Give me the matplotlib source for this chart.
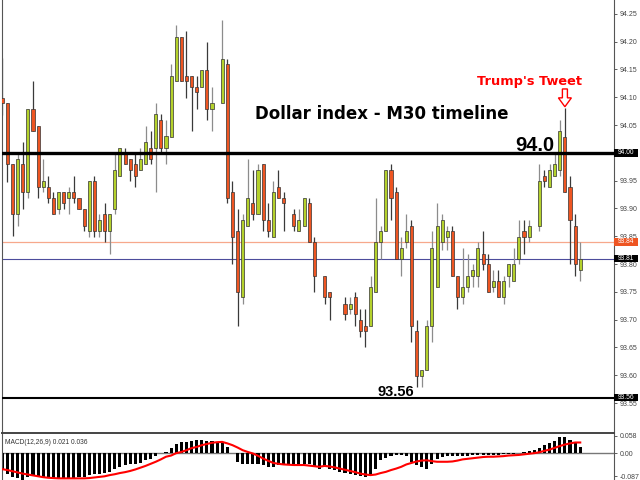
import numpy as np
import matplotlib
matplotlib.use("Agg")
import matplotlib.pyplot as plt
from matplotlib.patches import Rectangle, Polygon
import matplotlib.transforms as mtransforms

nan = np.nan
# ---- OHLC data (M30 bars), nan = no bar drawn ----
opens = [94.099, 94.089, 93.980, 93.890, 93.980, 93.929, 94.079, 94.049, 93.939, 93.939,
         93.919, 93.899, 93.929, 93.919, 93.929, 93.919, 93.899, 93.860, 93.950, 93.860,
         93.890, 93.860, 93.899, 93.959, 93.999, 93.989, 93.980, 93.969, 93.980, 94.009,
         94.009, 94.059, 94.009, 94.029, 94.130, 94.209, 94.139, 94.139, 94.119, 94.119,
         94.149, 94.079, nan, 94.089, 94.160, 93.929, 93.860, 93.740, 93.869, 93.909,
         93.890, 93.980, 93.879, 93.849, 93.939, 93.919, nan, 93.890, 93.860, 93.869,
         93.909, 93.839, nan, 93.779, 93.749, nan, nan, 93.729, 93.719, 93.740,
         93.699, 93.689, 93.689, 93.749, 93.839, 93.860, 93.969, 93.929, 93.809, 93.839,
         93.869, 93.680, 93.599, 93.609, 93.689, 93.759, 93.839, 93.849, 93.860, 93.779,
         93.740, 93.759, 93.779, 93.779, 93.819, 93.800, 93.759, 93.770, 93.740, 93.779,
         93.770, 93.809, 93.860, 93.849, nan, 93.869, 93.959, 93.939, 93.959, 93.969,
         94.029, 93.939, 93.869, 93.789]
highs = [94.171, 94.089, 93.980, 94.000, 94.019, 94.079, 94.130, 94.049, 93.989, 93.959,
         93.929, 93.929, 93.929, 93.939, 93.959, 93.919, 93.899, 93.950, 93.959, 93.890,
         93.909, 93.890, 93.999, 94.009, 94.009, 93.989, 93.999, 94.009, 94.049, 94.040,
         94.089, 94.070, 94.059, 94.160, 94.230, 94.209, 94.219, 94.139, 94.139, 94.149,
         94.200, 94.119, nan, 94.239, 94.169, 93.950, 93.899, 93.890, 93.989, 93.969,
         93.980, 93.980, 93.909, 93.950, 93.969, 93.929, nan, 93.899, 93.899, 93.919,
         93.919, 93.849, nan, 93.779, 93.749, nan, nan, 93.740, 93.740, 93.749,
         93.719, 93.719, 93.779, 93.919, 93.869, 93.969, 93.980, 93.939, 93.849, 93.890,
         93.879, 93.699, 93.609, 93.699, 93.860, 93.909, 93.890, 93.869, 93.869, 93.779,
         93.829, 93.819, 93.800, 93.839, 93.860, 93.819, 93.789, 93.789, 93.779, 93.800,
         93.829, 93.879, 93.879, 93.879, nan, 93.980, 93.969, 93.980, 93.999, 94.059,
         94.080, 93.959, 93.890, 93.839]
lows = [94.068, 93.948, 93.850, 93.868, 93.899, 93.919, 94.040, 93.919, 93.929, 93.909,
        93.890, 93.890, 93.899, 93.890, 93.909, 93.899, 93.860, 93.849, 93.849, 93.849,
        93.839, 93.819, 93.890, 93.959, 93.980, 93.950, 93.939, 93.969, 93.980, 93.980,
        93.929, 94.000, 93.980, 94.029, 94.130, 94.130, 94.099, 94.040, 94.079, 94.119,
        94.059, 94.040, nan, 94.089, 93.909, 93.800, 93.689, 93.729, 93.869, 93.879,
        93.890, 93.860, 93.849, 93.849, 93.919, 93.860, nan, 93.860, 93.860, 93.869,
        93.839, 93.749, nan, 93.729, 93.699, nan, nan, 93.699, 93.710, 93.689,
        93.669, 93.650, 93.689, 93.749, 93.809, 93.860, 93.879, 93.809, 93.779, 93.829,
        93.659, 93.579, 93.579, 93.609, 93.659, 93.759, 93.825, 93.825, 93.779, 93.719,
        93.729, 93.749, 93.759, 93.759, 93.789, 93.749, 93.749, 93.740, 93.729, 93.759,
        93.770, 93.800, 93.819, 93.839, nan, 93.860, 93.939, 93.939, 93.959, 93.959,
        93.929, 93.800, 93.779, 93.770]
closes = [94.090, 93.980, 93.890, 93.989, 93.929, 94.079, 94.040, 93.939, 93.950, 93.919,
          93.890, 93.929, 93.909, 93.929, 93.919, 93.899, 93.869, 93.950, 93.860, 93.879,
          93.860, 93.890, 93.969, 94.009, 93.980, 93.969, 93.959, 93.989, 94.019, 93.989,
          94.070, 94.009, 94.030, 94.139, 94.209, 94.130, 94.130, 94.119, 94.109, 94.149,
          94.079, 94.089, nan, 94.169, 93.919, 93.849, 93.749, 93.879, 93.919, 93.890,
          93.969, 93.879, 93.860, 93.929, 93.919, 93.909, nan, 93.869, 93.879, 93.919,
          93.839, 93.779, nan, 93.740, 93.740, nan, nan, 93.710, 93.729, 93.710,
          93.680, 93.680, 93.759, 93.839, 93.860, 93.969, 93.919, 93.809, 93.829, 93.860,
          93.689, 93.599, 93.609, 93.689, 93.829, 93.869, 93.879, 93.860, 93.779, 93.740,
          93.759, 93.779, 93.789, 93.829, 93.800, 93.749, 93.770, 93.740, 93.770, 93.800,
          93.800, 93.849, 93.849, 93.869, nan, 93.950, 93.950, 93.969, 93.980, 94.040,
          93.929, 93.879, 93.800, 93.809]

# ---- MACD(12,26,9) ----
macd_hist = [-0.057, -0.069, -0.080, -0.085, -0.089, -0.082, -0.074, -0.078, -0.082, -0.085,
             -0.087, -0.087, -0.087, -0.085, -0.083, -0.082, -0.080, -0.074, -0.071, -0.069,
             -0.066, -0.063, -0.052, -0.046, -0.040, -0.038, -0.035, -0.033, -0.024, -0.018,
             -0.009, -0.001, 0.004, 0.016, 0.030, 0.037, 0.039, 0.042, 0.044, 0.044,
             0.042, 0.040, 0.039, 0.033, 0.021, -0.001, -0.029, -0.035, -0.035, -0.035,
             -0.037, -0.040, -0.046, -0.046, -0.040, -0.035, -0.037, -0.037, -0.037, -0.037,
             -0.037, -0.046, -0.052, -0.046, -0.052, -0.057, -0.063, -0.066, -0.069, -0.072,
             -0.078, -0.080, -0.074, -0.052, -0.024, -0.015, -0.010, -0.006, -0.006, -0.010,
             -0.029, -0.040, -0.048, -0.052, -0.035, -0.018, -0.012, -0.010, -0.010, -0.010,
             -0.009, -0.008, -0.007, -0.006, -0.006, -0.006, -0.006, -0.006, -0.004, -0.003,
             -0.002, -0.001, 0.003, 0.008, 0.012, 0.019, 0.026, 0.033, 0.042, 0.055,
             0.053, 0.046, 0.039, 0.021]
macd_signal = [-0.054, -0.057, -0.061, -0.065, -0.069, -0.072, -0.075, -0.078, -0.081, -0.083,
               -0.084, -0.085, -0.085, -0.085, -0.085, -0.085, -0.085, -0.084, -0.082, -0.080,
               -0.078, -0.074, -0.071, -0.067, -0.064, -0.060, -0.055, -0.049, -0.043, -0.036,
               -0.029, -0.021, -0.012, -0.008, 0.000, 0.004, 0.010, 0.017, 0.021, 0.027,
               0.031, 0.035, 0.037, 0.038, 0.033, 0.027, 0.019, 0.010, 0.004, -0.001,
               -0.009, -0.018, -0.026, -0.033, -0.036, -0.038, -0.039, -0.040, -0.040, -0.040,
               -0.042, -0.044, -0.046, -0.043, -0.045, -0.048, -0.052, -0.056, -0.060, -0.064,
               -0.069, -0.072, -0.074, -0.072, -0.067, -0.063, -0.057, -0.052, -0.046, -0.038,
               -0.033, -0.028, -0.025, -0.024, -0.027, -0.029, -0.029, -0.029, -0.028, -0.025,
               -0.021, -0.019, -0.017, -0.015, -0.013, -0.012, -0.012, -0.011, -0.010, -0.008,
               -0.007, -0.006, -0.004, -0.002, 0.000, 0.003, 0.008, 0.012, 0.018, 0.024,
               0.029, 0.033, 0.036, 0.036]

price_ticks = [93.55, 93.60, 93.65, 93.70, 93.75, 93.80, 93.85, 93.90, 93.95,
               94.00, 94.05, 94.10, 94.15, 94.20, 94.25]
level_94 = 94.00
level_low = 93.56
level_ask = 93.84
level_bid = 93.81
tweet_bar = 110
title_text = "Dollar index - M30 timeline"
tweet_text = "Trump's Tweet"

BULL = "#b4d12c"
BEAR = "#ee5522"

W, H = 640, 480
fig = plt.figure(figsize=(6.4, 4.8), dpi=100)
fig.patch.set_facecolor("white")

px = lambda v, tot: v / tot
ax = fig.add_axes([px(2, W), 1 - px(432, H), px(612, W), px(432, H)])
axm = fig.add_axes([px(2, W), 0, px(612, W), px(47, H)])

o = np.array(opens, float); h = np.array(highs, float)
l = np.array(lows, float); c = np.array(closes, float)
x = np.arange(len(o))
valid = ~np.isnan(o)
bull = (c >= o) & valid
bear = (c < o) & valid

ax.vlines(x[bull], l[bull], h[bull], color="#8c8c8c", lw=0.9, zorder=2)
ax.vlines(x[bear], l[bear], h[bear], color="#3a3a3a", lw=0.9, zorder=2)
ax.bar(x[bull], (c - o)[bull], bottom=o[bull], width=0.6, color=BULL,
       edgecolor="#333333", linewidth=0.5, zorder=3)
ax.bar(x[bear], (o - c)[bear], bottom=c[bear], width=0.6, color=BEAR,
       edgecolor="#333333", linewidth=0.5, zorder=3)

ax.axhline(level_ask, color="#f7a88c", lw=0.9, zorder=1)
ax.axhline(level_bid, color="#4c4c9c", lw=0.8, zorder=1)
ax.axhline(level_94, color="black", lw=2.4, zorder=4)
ax.axhline(level_low, color="black", lw=1.5, zorder=4)

ax.set_xlim(-0.06, 119.6)
ax.set_ylim(93.498, 94.275)
ax.set_yticks(price_ticks)
# the 94.00 tick label is hidden behind the 94.00 price box in the reference
ax.set_yticklabels(["" if abs(t - level_94) < 1e-9 else f"{t:.2f}" for t in price_ticks])
ax.yaxis.tick_right()
ax.tick_params(axis="y", labelsize=5, length=2.5, width=0.6, pad=1.5,
               colors="#444444", labelfontfamily="Liberation Sans")
ax.set_xticks([])
for s in ("top", "bottom"):
    ax.spines[s].set_visible(False)
ax.spines["left"].set_color("#555555")
ax.spines["right"].set_color("#555555")
ax.spines["right"].set_linewidth(0.8)

# right-side price boxes
bt = mtransforms.blended_transform_factory(ax.transAxes, ax.transData)
box_w = 24 / 612
box_h = 7.5 / 555.7
for lvl, fc, txt in [(level_94, "black", "94.00"), (level_ask, "#ee5522", "93.84"),
                     (level_bid, "black", "93.81"), (level_low, "black", "93.56")]:
    ax.add_patch(Rectangle((1.0, lvl - box_h / 2), box_w, box_h, transform=bt,
                           facecolor=fc, edgecolor="none", clip_on=False, zorder=6))
    ax.text(1.0 + box_w / 2, lvl, txt, transform=bt, ha="center", va="center",
            fontsize=4.8, color="white", family="Liberation Sans", clip_on=False, zorder=7)

# annotations
ax.text(49.4, 94.070, title_text, fontsize=12.0, fontweight="bold",
        family="DejaVu Sans", ha="left", va="center", color="black")
ax.text(100.3, 94.014, "94.0", fontsize=14.5, fontweight="bold",
        family="Liberation Sans", ha="left", va="center", color="black")
ax.text(73.4, 93.570, "93.56", fontsize=10.5, fontweight="bold",
        family="Liberation Sans", ha="left", va="center", color="black")
ax.text(92.8, 94.129, tweet_text, fontsize=9.3, fontweight="bold",
        family="DejaVu Sans", ha="left", va="center", color="red")
tip = h[tweet_bar] + 0.003
sw, hw = 0.49, 1.27
arrow = Polygon([(tweet_bar - sw, tip + 0.032), (tweet_bar + sw, tip + 0.032),
                 (tweet_bar + sw, tip + 0.016), (tweet_bar + hw, tip + 0.016),
                 (tweet_bar, tip), (tweet_bar - hw, tip + 0.016),
                 (tweet_bar - sw, tip + 0.016)], closed=True,
                facecolor="white", edgecolor="red", lw=1.0, zorder=5)
ax.add_patch(arrow)

# ---- MACD panel ----
mh = np.array(macd_hist); ms = np.array(macd_signal)
xm = np.arange(len(mh))
axm.bar(xm, mh, width=0.6, color="black", zorder=2)
axm.plot(xm, ms, color="red", lw=1.5, zorder=3)
axm.axhline(0, color="#777777", lw=1.0, zorder=1)
axm.set_xlim(-0.06, 119.6)
axm.set_ylim(-0.0905, 0.068)
axm.set_xticks([])
axm.set_yticks([0.058, 0.0, -0.078])
axm.set_yticklabels(["0.058", "0.00", "-0.087"])
axm.yaxis.tick_right()
axm.tick_params(axis="y", labelsize=5, length=2.5, width=0.6, pad=1.5,
                colors="#444444", labelfontfamily="Liberation Sans")
axm.spines["bottom"].set_visible(False)
axm.spines["top"].set_color("#444444")
axm.spines["top"].set_linewidth(1.4)
axm.spines["left"].set_color("#555555")
axm.spines["right"].set_color("#555555")
axm.spines["right"].set_linewidth(0.8)
axm.text(0.005, 0.80, "MACD(12,26,9) 0.021 0.036", transform=axm.transAxes,
         fontsize=4.8, color="#333333", family="Liberation Sans", ha="left", va="center")

fig.savefig("out.png", dpi=100, facecolor="white")
